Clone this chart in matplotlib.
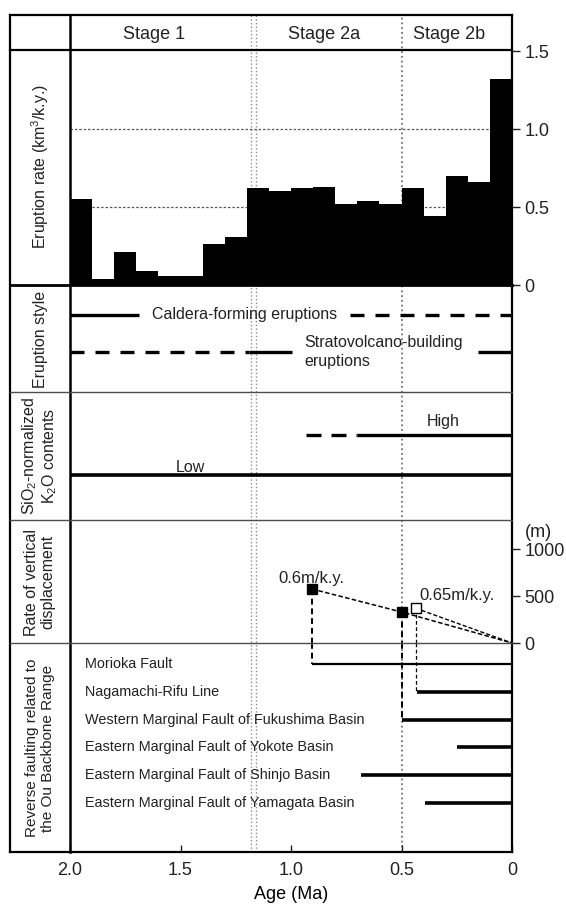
import matplotlib
matplotlib.use("Agg")
import matplotlib.pyplot as plt
from matplotlib.lines import Line2D

plt.rcParams['font.family'] = ['Liberation Sans', 'DejaVu Sans']
plt.rcParams['mathtext.fontset'] = 'custom'
plt.rcParams['mathtext.rm'] = 'Liberation Sans'
plt.rcParams['mathtext.it'] = 'Liberation Sans:italic'
plt.rcParams['text.color'] = '#222222'
plt.rcParams['xtick.color'] = '#222222'
plt.rcParams['ytick.color'] = '#222222'

# ---- data ----
stages = ['Stage 1', 'Stage 2a', 'Stage 2b']
stage_pos = [1.62, 0.85, 0.285]
stage_bounds = [1.183, 1.158, 0.5]

bin_start = [2.0, 1.9, 1.8, 1.7, 1.6, 1.5, 1.4, 1.3, 1.2, 1.1,
             1.0, 0.9, 0.8, 0.7, 0.6, 0.5, 0.4, 0.3, 0.2, 0.1]
eruption_rate = [0.55, 0.04, 0.21, 0.09, 0.06, 0.06, 0.26, 0.31, 0.62, 0.60,
                 0.62, 0.63, 0.52, 0.54, 0.52, 0.62, 0.44, 0.70, 0.66, 1.32]

# eruption style: (start, end) in Ma
caldera_solid = [(2.0, 1.69)]
caldera_dashed = [(0.735, 0.0)]
strato_solid = [(1.19, 0.995), (0.155, 0.0)]
strato_dashed = [(2.0, 1.19)]

# SiO2-normalized K2O
high_solid = [(0.70, 0.0)]
high_dashed = [(0.933, 0.70)]
low_solid = [(2.0, 0.0)]

# vertical displacement
disp_age = [0.906, 0.5]
disp_val = [575, 330]
disp2_age = [0.436]
disp2_val = [370]
rate_labels = ['0.6m/k.y.', '0.65m/k.y.']

faults = ['Morioka Fault', 'Nagamachi-Rifu Line',
          'Western Marginal Fault of Fukushima Basin',
          'Eastern Marginal Fault of Yokote Basin',
          'Eastern Marginal Fault of Shinjo Basin',
          'Eastern Marginal Fault of Yamagata Basin']
fault_start = [0.906, 0.432, 0.497, 0.248, 0.685, 0.394]

# ---- layout (pixels) ----
W, H = 566, 908
XL, X0, X1 = 10, 70, 512
TOP, HEAD, ER_B, ES_B, SI_B, VD_B, BOT = 15, 50, 285, 392, 520, 643, 852

fig = plt.figure(figsize=(W / 100, H / 100), dpi=100)


def panel(top, bottom):
    ax = fig.add_axes([X0 / W, 1 - bottom / H, (X1 - X0) / W, (bottom - top) / H])
    ax.set_xlim(2.0, 0.0)
    ax.set_facecolor('none')
    for s in ax.spines.values():
        s.set_visible(False)
    ax.set_xticks([])
    ax.set_yticks([])
    return ax


def fline(x0, y0, x1, y1, lw=1.0, color='black'):
    fig.add_artist(Line2D([x0 / W, x1 / W], [1 - y0 / H, 1 - y1 / H],
                          transform=fig.transFigure, lw=lw, color=color, zorder=5))


# stage boundary lines behind everything
bg = panel(TOP, BOT)
bg.set_ylim(0, 1)
bg.axvline(stage_bounds[0], ls=':', color='0.55', lw=1.0)
bg.axvline(stage_bounds[1], ls=':', color='0.55', lw=1.0)
bg.axvline(stage_bounds[2], ls=':', color='0.45', lw=1.3)

# header
hd = panel(TOP, HEAD)
hd.set_ylim(0, 1)
for name, x in zip(stages, stage_pos):
    hd.text(x, 0.45, name, ha='center', va='center', fontsize=13)

# eruption rate
er = panel(HEAD, ER_B)
er.set_ylim(0, 1.507)
for yv in (0.5, 1.0):
    er.axhline(yv, ls=(0, (2, 1.5)), color='0.35', lw=0.9, zorder=0)
er.bar(bin_start, eruption_rate, width=-0.1, align='edge', color='black', lw=0, zorder=2)
er.yaxis.tick_right()
er.set_yticks([0, 0.5, 1.0, 1.5])
er.set_yticklabels(['0', '0.5', '1.0', '1.5'])
er.tick_params(axis='y', direction='out', length=6, width=1, labelsize=13, pad=3)

# eruption style
es = panel(ER_B, ES_B)
es.set_ylim(2.08, -0.81)
for row, solid, dashed in [(0, caldera_solid, caldera_dashed), (1, strato_solid, strato_dashed)]:
    for a, b in solid:
        es.plot([a, b], [row, row], color='black', lw=2.4, solid_capstyle='butt')
    for a, b in dashed:
        es.plot([a, b], [row, row], color='black', lw=2.4, dashes=(4.2, 3.3), dash_capstyle='butt')
es.text(1.21, 0, 'Caldera-forming eruptions', ha='center', va='center', fontsize=11.5)
es.text(0.94, 1, 'Stratovolcano-building\neruptions', ha='left', va='center',
        fontsize=11.5, linespacing=1.3)

# SiO2-normalized K2O contents
si = panel(ES_B, SI_B)
si.set_ylim(2.125, -1.075)
for a, b in high_solid:
    si.plot([a, b], [0, 0], color='black', lw=2.4, solid_capstyle='butt')
for a, b in high_dashed:
    si.plot([a, b], [0, 0], color='black', lw=2.4, dashes=(4.5, 3.0), dash_capstyle='butt')
for a, b in low_solid:
    si.plot([a, b], [1, 1], color='black', lw=2.6, solid_capstyle='butt')
si.text(0.31, -0.33, 'High', ha='center', va='center', fontsize=11.5)
si.text(1.457, 0.8, 'Low', ha='center', va='center', fontsize=11.5)

# rate of vertical displacement
vd = panel(SI_B, VD_B)
vd.set_ylim(0, 1309)
vd.plot(disp_age + [0.0], disp_val + [0], ls=(0, (3, 1.5)), color='black', lw=1.1)
vd.plot(disp2_age + [0.0], disp2_val + [0], ls=(0, (3, 1.5)), color='black', lw=1.0)
for a, v in zip(disp_age, disp_val):
    vd.plot([a, a], [v, 0], ls=(0, (3, 2)), color='black', lw=1.4)
for a, v in zip(disp2_age, disp2_val):
    vd.plot([a, a], [v, 0], ls=(0, (3, 2)), color='black', lw=0.9)
vd.plot(disp_age, disp_val, 's', color='black', ms=6.5, zorder=4)
vd.plot(disp2_age, disp2_val, 's', mfc='white', mec='black', mew=1, ms=6.5, zorder=4)
vd.text(disp_age[0] + 0.15, 610, rate_labels[0], ha='left', va='bottom', fontsize=12)
vd.text(0.42, 510, rate_labels[1], ha='left', va='center', fontsize=12)
vd.yaxis.tick_right()
vd.set_yticks([0, 500, 1000])
vd.set_yticklabels(['0', '500', '1000'])
vd.tick_params(axis='y', direction='out', length=6, width=1, labelsize=13, pad=3)
vd.text(1.06, 1180, '(m)', transform=vd.get_yaxis_transform(), ha='center', va='center',
        fontsize=13)

# reverse faulting
rf = panel(VD_B, BOT)
rf.set_ylim(6.76, -0.755)
for i, (name, start) in enumerate(zip(faults, fault_start)):
    rf.text(1.93, i, name, ha='left', va='center', fontsize=10.4)
    rf.plot([start, 0.0], [i, i], color='black', lw=1.6 if i == 0 else 2.6,
            solid_capstyle='butt')
# dashed drops from displacement points to fault rows
for a, row in [(disp_age[0], 0), (disp_age[1], 2)]:
    rf.plot([a, a], [-0.755, row], ls=(0, (3, 2)), color='black', lw=1.4)
rf.plot([disp2_age[0], disp2_age[0]], [-0.755, 1], ls=(0, (3, 2)), color='black', lw=0.9)
rf.set_xticks([2.0, 1.5, 1.0, 0.5, 0.0])
rf.set_xticklabels(['2.0', '1.5', '1.0', '0.5', '0'])
rf.tick_params(axis='x', direction='in', length=5, width=1, labelsize=13, pad=7)
rf.set_xlabel('Age (Ma)', fontsize=13, labelpad=5)

# frame
fline(XL, TOP, X1, TOP, lw=1.6)
fline(XL, BOT, X1, BOT, lw=1.6)
fline(XL, TOP, XL, BOT, lw=1.6)
fline(X1, TOP, X1, BOT, lw=1.6)
fline(X0, TOP, X0, BOT, lw=1.8)
fline(XL, HEAD, X1, HEAD, lw=1.6)
fline(XL, ER_B, X1, ER_B, lw=2.0)
fline(XL, ES_B, X1, ES_B, lw=1.0, color='0.3')
fline(XL, SI_B, X1, SI_B, lw=1.0, color='0.3')
fline(XL, VD_B, X1, VD_B, lw=1.0, color='0.3')

# row labels
lx = 40 / W
fig.text(lx, 1 - 166 / H, 'Eruption rate (km$^3$/k.y.)', rotation=90,
         ha='center', va='center', fontsize=11.5)
fig.text(lx, 1 - 339 / H, 'Eruption style', rotation=90, ha='center', va='center',
         fontsize=11.5)
fig.text(lx, 1 - 456 / H, 'SiO$_2$-normalized\nK$_2$O contents', rotation=90,
         ha='center', va='center', fontsize=11.5, linespacing=1.1)
fig.text(lx, 1 - 582 / H, 'Rate of vertical\ndisplacement', rotation=90,
         ha='center', va='center', fontsize=11.5, linespacing=1.1)
fig.text(lx, 1 - 748 / H, 'Reverse faulting related to\nthe Ou Backbone Range', rotation=90,
         ha='center', va='center', fontsize=11, linespacing=1.1)

fig.savefig('out.png', dpi=100)
